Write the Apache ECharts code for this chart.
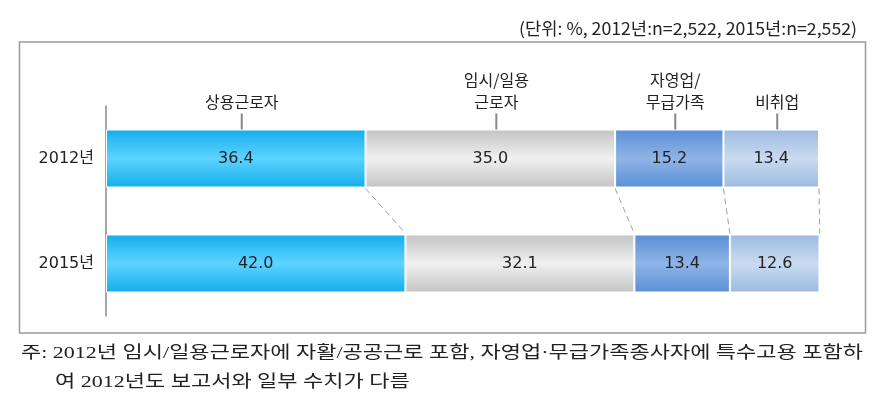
<!DOCTYPE html>
<html>
<head>
<meta charset="utf-8">
<script src="https://cdn.jsdelivr.net/npm/echarts@6/dist/echarts.min.js"></script>
<style>
html,body{margin:0;padding:0;background:#fff;}
#chart{width:891px;height:402px;}
</style>
</head>
<body>
<div id="chart"></div>
<script>
const categories = ['2012년', '2015년'];
const segmentNames = ['상용근로자', '임시/일용\n근로자', '자영업/\n무급가족', '비취업'];
const values2012 = [36.4, 35.0, 15.2, 13.4];
const values2015 = [42.0, 32.1, 13.4, 12.6];
const unitText = '(단위: %, 2012년:n=2,522, 2015년:n=2,552)';
const noteLine1 = '주: 2012년 임시/일용근로자에 자활/공공근로 포함, 자영업·무급가족종사자에 특수고용 포함하';
const noteLine2 = '여 2012년도 보고서와 일부 수치가 다름';

const segColors = [
  ['#14aeea', '#5dd3ff'],
  ['#c4c4c4', '#f0f0f0'],
  ['#5a8fd8', '#8fb4e6'],
  ['#9dbadf', '#c9dbf1']
];
function grad(c) {
  return new echarts.graphic.LinearGradient(0, 0, 0, 1, [
    {offset: 0, color: c[0]}, {offset: 0.5, color: c[1]}, {offset: 1, color: c[0]}
  ]);
}
function cumulative(arr) {
  const out = []; let s = 0;
  arr.forEach(v => { s += v; out.push(+s.toFixed(1)); });
  return out;
}
const cum12 = cumulative(values2012);
const cum15 = cumulative(values2015);
const BAR_W = 58;
const labelFont = '"DejaVu Sans", "Noto Sans CJK KR", sans-serif';
const headFont = '"Noto Sans CJK KR", "Noto Sans", sans-serif';
const noteFont = '"Liberation Serif", "Noto Sans CJK KR", serif';
const unitFont = '"Liberation Sans Narrow", "Noto Sans CJK KR", sans-serif';

const measureCtx = document.createElement('canvas').getContext('2d');
function textWidth(text, size, family) {
  measureCtx.font = size + 'px ' + family;
  return measureCtx.measureText(text).width;
}
const noteSize = 17;
const noteScale = 842 / textWidth(noteLine1, noteSize, noteFont);
const unitSize = 17;
const unitScale = 338 / textWidth(unitText, unitSize, unitFont);

const barSeries = segmentNames.map((name, i) => ({
  name: name,
  type: 'bar',
  stack: 'total',
  barWidth: BAR_W,
  data: [values2012[i], values2015[i]],
  itemStyle: {color: grad(segColors[i]), borderColor: '#ffffff', borderWidth: 1},
  label: {
    show: true, position: 'inside', color: '#222', fontSize: 16, fontFamily: labelFont,
    formatter: p => p.value.toFixed(1)
  },
  emphasis: {disabled: true},
  silent: true
}));

const connectorData = cum12.map((c, i) => [c, cum15[i]]);
const connectorSeries = {
  type: 'custom',
  silent: true,
  data: connectorData,
  encode: {x: 0},
  renderItem: function (params, api) {
    const p1 = api.coord([api.value(0), 0]);
    const p2 = api.coord([api.value(1), 1]);
    return {
      type: 'line',
      shape: {x1: p1[0], y1: p1[1] + BAR_W / 2 + 1, x2: p2[0], y2: p2[1] - BAR_W / 2 - 1},
      style: {stroke: '#a0a0a0', lineWidth: 1, lineDash: [6, 4]}
    };
  },
  z: 1
};

const mids12 = values2012.map((v, i) => +(cum12[i] - v / 2).toFixed(2));
const headerSeries = {
  type: 'custom',
  silent: true,
  data: mids12.map((m, i) => [m, i]),
  encode: {x: 0},
  renderItem: function (params, api) {
    const p = api.coord([api.value(0), 0]);
    const x = p[0] + 6;
    const top = p[1] - BAR_W / 2;
    return {
      type: 'group',
      children: [
        {type: 'line', shape: {x1: x, y1: top - 16, x2: x, y2: top},
         style: {stroke: '#888', lineWidth: 2}},
        {type: 'text', x: x, y: top - 17,
         style: {text: segmentNames[api.value(1)], align: 'center', verticalAlign: 'bottom',
                 fontSize: 16, lineHeight: 22, fill: '#222', fontFamily: headFont}}
      ]
    };
  },
  z: 3
};

const chart = echarts.init(document.getElementById('chart'));
chart.setOption({
  animation: false,
  backgroundColor: '#ffffff',
  grid: {left: 106, right: 72, top: 106, bottom: 86, containLabel: false},
  xAxis: {type: 'value', min: 0, max: 100, show: false},
  yAxis: {
    type: 'category', data: categories, inverse: true,
    axisLine: {show: true, lineStyle: {color: '#888', width: 1.5}},
    axisTick: {show: false},
    axisLabel: {fontSize: 16, color: '#222', margin: 12, fontFamily: labelFont}
  },
  series: barSeries.concat([connectorSeries, headerSeries]),
  graphic: [
    {type: 'rect', silent: true, shape: {x: 19.5, y: 42, width: 846, height: 291},
     style: {fill: null, stroke: '#999', lineWidth: 1.5}, z: 0},
    {type: 'text', silent: true, x: 857, y: 29, scaleX: unitScale,
     style: {text: unitText, align: 'right', verticalAlign: 'middle', fontSize: unitSize, fill: '#222',
             fontFamily: unitFont}},
    {type: 'text', silent: true, x: 21, y: 354, scaleX: noteScale,
     style: {text: noteLine1, align: 'left', verticalAlign: 'middle', fontSize: noteSize, fill: '#222',
             fontFamily: noteFont}},
    {type: 'text', silent: true, x: 55, y: 383, scaleX: noteScale,
     style: {text: noteLine2, align: 'left', verticalAlign: 'middle', fontSize: noteSize, fill: '#222',
             fontFamily: noteFont}}
  ]
});
</script>
</body>
</html>
